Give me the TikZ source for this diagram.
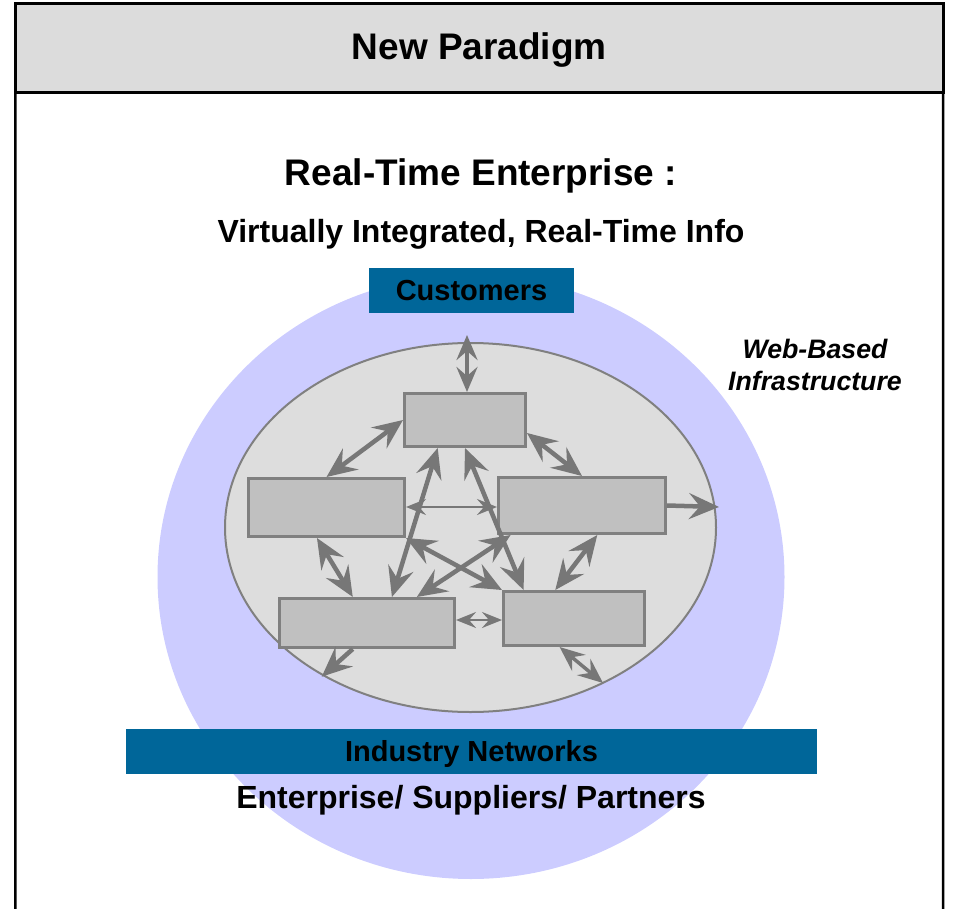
\documentclass[tikz,border=0pt]{standalone}
\usepackage{fontspec}
\setmainfont{Liberation Sans}
\usetikzlibrary{arrows.meta,positioning,shapes,calc}

\definecolor{headgray}{HTML}{DCDCDC}
\definecolor{lavender}{HTML}{CCCCFF}
\definecolor{bannerblue}{HTML}{006699}
\definecolor{innergray}{HTML}{DDDDDD}
\definecolor{boxfill}{HTML}{C0C0C0}
\definecolor{boxline}{HTML}{808080}
\definecolor{arrowgray}{HTML}{777777}

\tikzset{
  head/.tip = {Stealth[length=30pt, width=26pt, inset=11pt]},
  small head/.tip = {Stealth[length=20pt, width=16pt, inset=7pt]},
  mid head/.tip = {Stealth[length=25pt, width=21pt, inset=9pt]}
}

\begin{document}
\begin{tikzpicture}[x=1pt, y=-1pt,
                    title/.style = {font=\fontsize{37}{44}\selectfont\bfseries},
                    subtitle/.style = {font=\fontsize{32}{38}\selectfont\bfseries},
                    banner/.style = {rectangle, fill=bannerblue, inner sep=0pt, font=\fontsize{29}{35}\selectfont\bfseries},
                    module/.style = {rectangle, draw=boxline, fill=boxfill, line width=3pt, inner sep=0pt},
                    every link/.style = {draw=arrowgray, line width=4.5pt},
                    link/.style = {every link, head-head},
                    short link/.style = {every link, line width=4pt, mid head-mid head},
                    out link/.style = {every link, -head},
                    thin link/.style = {every link, line width=2.5pt, small head-small head},
                    mid link/.style = {every link, line width=3.5pt, mid head-mid head} ]

    \useasboundingbox (0,0) rectangle (953,909);

    % frame and header
    \node [rectangle, draw, fill=headgray, line width=3pt, outer sep=0pt, minimum width=927.7pt, minimum height=88.7pt] (header) at (479.2,47.7) {};
    \node [title] (paradigm) at (479.2,50.5) {New Paradigm};
    \draw [line width=2.5pt] (header.south west) -- (15.3,909);
    \draw [line width=2.5pt] (header.south east) -- (943,909);

    \node [title] (rte) at (481,176) {Real-Time Enterprise :};
    \node [subtitle] (info) at (481,234) {Virtually Integrated, Real-Time Info};

    % web based infrastructure
    \node [ellipse, fill=lavender, minimum width=627pt, minimum height=604pt, inner sep=0pt] (web) at (471,577) {};
    \node [banner, minimum width=205pt, minimum height=44.5pt] (customers) at (471.5,290.5) {Customers};
    \node [align=center, font=\fontsize{26.7}{32}\selectfont\bfseries\itshape] (infra) at (815,365) {Web-Based\\Infrastructure};

    % enterprise
    \node [ellipse, draw=boxline, fill=innergray, line width=2pt, minimum width=491pt, minimum height=369pt, inner sep=0pt] (enterprise) at (470.5,527.5) {};
    \node [module, minimum width=121pt, minimum height=53pt] (topbox) at (465,420) {};
    \node [module, minimum width=156pt, minimum height=58pt] (leftbox) at (326.5,507.5) {};
    \node [module, minimum width=167pt, minimum height=56pt] (rightbox) at (582,505.5) {};
    \node [module, minimum width=175pt, minimum height=49pt] (blbox) at (367,623) {};
    \node [module, minimum width=141pt, minimum height=54pt] (brbox) at (574,618.5) {};

    \coordinate (custend) at (467,335);
    \coordinate (webend) at (719,507);
    \coordinate (netend) at (321.7,676.7);
    \coordinate (partend) at (603,683);

    % links
    \path (custend) edge [short link] ($(topbox.north)+(2,0)$);
    \path (topbox.west) edge [link] (leftbox.north);
    \path ($(topbox.east)+(0,13)$) edge [link] (rightbox.north);
    \path ($(topbox.south west)!.28!(topbox.south east)$) edge [link] ($(blbox.north west)!.64!(blbox.north east)$);
    \path (topbox.south) edge [link] ($(brbox.north west)!.15!(brbox.north east)$);
    \path (leftbox.south east) edge [link] (brbox.north west);
    \path ($(rightbox.south west)!.08!(rightbox.south east)$) edge [link] ($(blbox.north west)!.78!(blbox.north east)$);
    \path ($(leftbox.east)+(0,-0.5)$) edge [thin link] ($(rightbox.west)+(0,1.5)$);
    \path ($(leftbox.south west)!.44!(leftbox.south east)$) edge [link] ($(blbox.north west)!.42!(blbox.north east)$);
    \path ($(rightbox.south west)!.59!(rightbox.south east)$) edge [link] ($(brbox.north west)!.37!(brbox.north east)$);
    \path ($(blbox.east)+(0,-3)$) edge [thin link] ($(brbox.west)+(0,1.5)$);
    \path (rightbox.east) edge [out link] (webend);
    \path ($(blbox.south west)!.42!(blbox.south east)$) edge [out link] (netend);
    \path ($(brbox.south west)!.40!(brbox.south east)$) edge [mid link] (partend);

    % industry networks
    \node [banner, minimum width=691pt, minimum height=45pt] (networks) at (471.5,751.5) {};
    \node [font=\fontsize{29}{35}\selectfont\bfseries] (netlabel) at (471.5,754) {Industry Networks};
    \node [subtitle] (partners) at (471,800) {Enterprise/ Suppliers/ Partners};

\end{tikzpicture}
\end{document}
